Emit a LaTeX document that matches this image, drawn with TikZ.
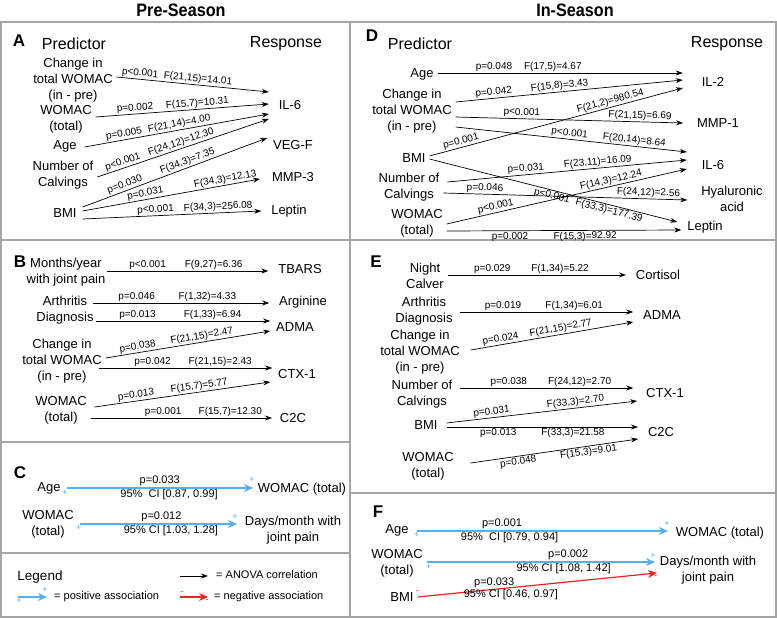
\documentclass[tikz,border=0pt]{standalone}
\usepackage{fontspec}
\setmainfont{Liberation Sans}
\usepackage{graphicx}
\usetikzlibrary{arrows.meta}
\definecolor{posblue}{RGB}{86,176,240}
\definecolor{negred}{RGB}{238,34,34}
\definecolor{linegray}{RGB}{165,165,165}
\begin{document}
\begin{tikzpicture}[x=1pt,y=-1pt,
    pred/.style={align=center,font=\fontsize{13}{16}\selectfont,inner sep=1pt,outer sep=3pt},
    resp/.style={align=center,font=\fontsize{13}{16}\selectfont,inner sep=1pt,outer sep=9pt},
    colhead/.style={font=\fontsize{16}{18}\selectfont},
    season/.style={font=\fontsize{18}{20}\selectfont\bfseries},
    panel/.style={font=\fontsize{17}{18}\selectfont\bfseries},
    stat/.style={font=\fontsize{10}{11}\selectfont,inner sep=1pt},
    ci/.style={font=\fontsize{11}{12}\selectfont,inner sep=1pt},
    plus/.style={font=\fontsize{9}{9}\selectfont,inner sep=0pt,text=posblue},
    minus/.style={font=\fontsize{9}{9}\selectfont,inner sep=0pt,text=negred},
    anova/.style={line width=0.7pt,-{Stealth[length=7pt,width=5pt]}},
    posarr/.style={draw=posblue,line width=1.6pt,-{Stealth[length=9pt,width=8pt]}},
    negarr/.style={draw=negred,line width=1.2pt,-{Stealth[length=9pt,width=8pt]}},
    panelline/.style={draw=linegray,line width=1.1pt}]
    \useasboundingbox (0,0) rectangle (777,618);
    \node[season] (preH) at (181,10) {\scalebox{0.9}[1]{Pre-Season}};
    \node[season] (inH) at (575,10) {\scalebox{0.9}[1]{In-Season}};
    \draw[panelline] (1,22) rectangle (776,617);
    \draw[panelline] (350,22) -- (350,617);
    \draw[panelline] (1,240) -- (776,240);
    \draw[panelline] (1,442) -- (350,442) (1,553) -- (350,553) (350,493) -- (776,493);

    % A
    \node[panel] (lA) at (19,41) {A};
    \node[colhead] (prA) at (74,44) {Predictor};
    \node[colhead] (rsA) at (286,44) {Response};
    \node[pred] (chgA) at (73,80) {Change in\\total WOMAC\\(in - pre)};
    \node[pred] (womA) at (66,119) {WOMAC\\(total)};
    \node[pred] (ageA) at (65,146) {Age};
    \node[pred] (calvA) at (63,175) {Number of\\Calvings};
    \node[pred] (bmiA) at (65,213) {BMI};
    \node[resp] (il6A) at (290,105) {IL-6};
    \node[resp] (vegA) at (293,145) {VEG-F};
    \node[resp] (mmpA) at (293,177) {MMP-3};
    \node[resp] (lepA) at (289,211) {Leptin};
    \draw[anova] ([yshift=3pt]chgA.east) -- node[stat,sloped,above,pos=.15]{p<0.001} node[stat,sloped,above,pos=.53]{F(21,15)=14.01} ([yshift=13pt]il6A.west);
    \draw[anova] ([yshift=2pt]womA.east) -- node[stat,sloped,above,pos=.23]{p=0.002} node[stat,sloped,above,pos=.59]{F(15,7)=10.31} ([yshift=1pt]il6A.west);
    \draw[anova] ([xshift=4pt,yshift=-1pt]ageA.east) -- node[stat,sloped,above,pos=.22]{p=0.005} node[stat,sloped,above,pos=.52]{F(21,14)=4.00} ([yshift=-9pt]il6A.west);
    \draw[anova] ([yshift=-2pt]calvA.east) -- node[stat,sloped,above,pos=.16]{p<0.001} node[stat,sloped,above,pos=.5]{F(24,12)=12.30} ([yshift=-14pt]il6A.west);
    \draw[anova] ([xshift=2pt,yshift=6pt]bmiA.east) -- node[stat,sloped,above,pos=.24]{p=0.030} node[stat,sloped,above,pos=.58]{F(34,3)=7.35} ([xshift=4pt,yshift=7pt]vegA.west);
    \draw[anova] ([xshift=2pt,yshift=2pt]bmiA.east) -- node[stat,sloped,above,pos=.36]{p=0.031} node[stat,sloped,above,pos=.81]{F(34,3)=12.13} ([xshift=-2pt,yshift=-2pt]mmpA.west);
    \draw[anova] ([xshift=2pt,yshift=-6pt]bmiA.east) -- node[stat,sloped,above,pos=.41]{p<0.001} node[stat,sloped,above,pos=.76]{F(34,3)=256.08} (lepA.west);

    % B
    \node[panel] (lB) at (20,262) {B};
    \node[pred] (monB) at (66,272) {Months/year\\with joint pain};
    \node[pred] (artB) at (65,310) {Arthritis\\Diagnosis};
    \node[pred] (chgB) at (62,361) {Change in\\total WOMAC\\(in - pre)};
    \node[pred] (womB) at (61,410) {WOMAC\\(total)};
    \node[resp] (tbaB) at (300,269) {TBARS};
    \node[resp] (argB) at (303,302) {Arginine};
    \node[resp] (admB) at (295,327) {ADMA};
    \node[resp] (ctxB) at (297,374) {CTX-1};
    \node[resp] (c2cB) at (293,418) {C2C};
    \draw[anova] ([xshift=-2pt,yshift=1pt]monB.east) -- node[stat,sloped,above,pos=.25]{p<0.001} node[stat,sloped,above,pos=.66]{F(9,27)=6.36} ([yshift=-2pt]tbaB.west);
    \draw[anova] ([xshift=-5pt,yshift=7pt]artB.east) -- node[stat,sloped,above,pos=.25]{p=0.046} node[stat,sloped,above,pos=.65]{F(1,32)=4.33} ([yshift=-1pt]argB.west);
    \draw[anova] ([xshift=-2pt,yshift=-11pt]artB.east) -- node[stat,sloped,above,pos=.24]{p=0.013} node[stat,sloped,above,pos=.67]{F(1,33)=6.94} ([xshift=4pt,yshift=6pt]admB.west);
    \draw[anova] ([yshift=3pt]chgB.east) -- node[stat,sloped,above,pos=.2]{p=0.038} node[stat,sloped,above,pos=.59]{F(21,15)=2.47} ([xshift=4pt,yshift=-4pt]admB.west);
    \draw[anova] ([xshift=-7pt,yshift=-7pt]chgB.east) -- node[stat,sloped,above,pos=.31]{p=0.042} node[stat,sloped,above,pos=.7]{F(21,15)=2.43} ([xshift=4pt,yshift=6pt]ctxB.west);
    \draw[anova] ([xshift=4pt,yshift=3pt]womB.east) -- node[stat,sloped,above,pos=.24]{p=0.013} node[stat,sloped,above,pos=.6]{F(15,7)=5.77} ([xshift=2pt,yshift=-8pt]ctxB.west);
    \draw[anova] ([yshift=-8pt]womB.east) -- node[stat,sloped,above,pos=.4]{p=0.001} node[stat,sloped,above,pos=.77]{F(15,7)=12.30} ([xshift=2pt]c2cB.west);

    % C
    \node[panel] (lC) at (20,473) {C};
    \node[pred] (ageC) at (49,488) {Age};
    \node[pred] (womC) at (48,524) {WOMAC\\(total)};
    \node[resp] (womrC) at (302,489) {WOMAC (total)};
    \node[resp] (dayC) at (293,530) {Days/month with\\joint pain};
    \draw[posarr] ([xshift=2pt]ageC.east) -- node[ci,above,pos=.5]{p=0.033} node[ci,below,pos=.55]{95\%\ \ CI [0.87, 0.99]} node[plus,pos=0,xshift=-2pt,yshift=-5pt]{+} node[plus,pos=1,xshift=-1pt,yshift=8pt]{+} ([xshift=5pt,yshift=1pt]womrC.west);
    \draw[posarr] ([xshift=2pt]womC.east) -- node[ci,above,pos=.52]{p=0.012} node[ci,below,pos=.58]{95\% CI [1.03, 1.28]} node[plus,pos=0,xshift=-1pt,yshift=-4pt]{+} node[plus,pos=1,xshift=-2pt,yshift=7pt]{+} ([xshift=2pt,yshift=6pt]dayC.west);

    % legend
    \node[font=\fontsize{13.5}{15}\selectfont] (legT) at (40,577) {Legend};
    \coordinate (lpS) at (18,597);
    \coordinate (laS) at (180,576);
    \coordinate (lnS) at (180,597);
    \node[ci,anchor=west] (lpT) at (53,597) {= positive association};
    \node[ci,anchor=west] (laT) at (215,575) {= ANOVA correlation};
    \node[ci,anchor=west] (lnT) at (213,597) {= negative association};
    \draw[posarr,shorten >=6pt] (lpS) -- node[plus,pos=0,xshift=1pt,yshift=-4pt]{+} node[plus,pos=1,xshift=-8pt,yshift=7pt]{+} (lpT.west);
    \draw[anova,shorten >=7pt] (laS) -- (laT.west |- laS);
    \draw[negarr,shorten >=5pt] (lnS) -- node[minus,pos=0,xshift=2pt,yshift=4pt]{-} node[minus,pos=1,xshift=-6pt,yshift=-4pt]{-} (lnT.west);

    % D
    \node[panel] (lD) at (372,36) {D};
    \node[colhead] (prD) at (420,44) {Predictor};
    \node[colhead] (rsD) at (727,44) {Response};
    \node[pred] (ageD) at (422,74) {Age};
    \node[pred] (chgD) at (412,111) {Change in\\total WOMAC\\(in - pre)};
    \node[pred] (bmiD) at (414,158) {BMI};
    \node[pred] (calvD) at (409,187) {Number of\\Calvings};
    \node[pred] (womD) at (417,223) {WOMAC\\(total)};
    \node[resp] (il2D) at (713,82) {IL-2};
    \node[resp] (mmpD) at (718,123) {MMP-1};
    \node[resp] (il6D) at (713,165) {IL-6};
    \node[resp] (hyaD) at (732,199) {Hyaluronic\\acid};
    \node[resp] (lepD) at (705,227) {Leptin};
    \draw[anova] ([yshift=1pt]ageD.east) -- node[stat,sloped,above,pos=.23]{p=0.048} node[stat,sloped,above,pos=.47]{F(17,5)=4.67} ([xshift=-9pt,yshift=9pt]il2D.west);
    \draw[anova] ([yshift=9pt]chgD.east) -- node[stat,sloped,above,pos=.17]{p=0.042} node[stat,sloped,above,pos=.46]{F(15,8)=3.43} ([xshift=-9pt,yshift=2pt]il2D.west);
    \draw[anova] ([yshift=2pt]bmiD.east) -- node[stat,sloped,above,pos=.13]{p=0.001} node[stat,sloped,above,pos=.72]{F(21,2)=980.54} ([xshift=-9pt,yshift=-6pt]il2D.west);
    \draw[anova] ([yshift=-6pt]chgD.east) -- node[stat,sloped,above,pos=.29]{p<0.001} node[stat,sloped,above,pos=.81]{F(21,15)=6.69} ([xshift=-4pt]mmpD.west);
    \draw[anova] ([yshift=-16pt]chgD.east) -- node[stat,sloped,above,pos=.49]{p<0.001} node[stat,sloped,above,pos=.77]{F(20,14)=8.64} ([xshift=-5pt,yshift=13pt]il6D.west);
    \draw[anova] ([xshift=4pt,yshift=5pt]calvD.east) -- node[stat,sloped,above,pos=.33]{p=0.031} node[stat,sloped,above,pos=.63]{F(23,11)=16.09} ([xshift=-5pt,yshift=5pt]il6D.west);
    \draw[anova] ([yshift=-1pt]womD.east) -- node[stat,sloped,above,pos=.21]{p<0.001} node[stat,sloped,above,pos=.69]{F(14,3)=12.24} ([xshift=-5pt,yshift=-4pt]il6D.west);
    \draw[anova] ([yshift=-6pt]calvD.east) -- node[stat,sloped,above,pos=.17]{p=0.046} node[stat,sloped,above,pos=.84]{F(24,12)=2.56} ([xshift=-4pt,yshift=-1pt]hyaD.west);
    \draw[anova] ([yshift=-1pt]bmiD.east) -- node[stat,sloped,below,pos=.5]{p<0.001} node[stat,sloped,below,pos=.73]{F(33,3)=177.39} ([yshift=5pt]lepD.west);
    \draw[anova] ([yshift=-8pt]womD.east) -- node[stat,sloped,below,pos=.27]{p=0.002} node[stat,sloped,below,pos=.59]{F(15,3)=92.92} ([xshift=4pt,yshift=-3pt]lepD.west);

    % E
    \node[panel] (lE) at (376,262) {E};
    \node[pred] (nigE) at (425,276) {Night\\Calver};
    \node[pred] (artE) at (424,311) {Arthritis\\Diagnosis};
    \node[pred] (chgE) at (420,352) {Change in\\total WOMAC\\(in - pre)};
    \node[pred] (calvE) at (422,394) {Number of\\Calvings};
    \node[pred] (bmiE) at (426,425) {BMI};
    \node[pred] (womE) at (428,466) {WOMAC\\(total)};
    \node[resp] (corE) at (658,275) {Cortisol};
    \node[resp] (admE) at (662,315) {ADMA};
    \node[resp] (ctxE) at (665,393) {CTX-1};
    \node[resp] (c2cE) at (661,432) {C2C};
    \draw[anova] ([yshift=1pt]nigE.east) -- node[stat,sloped,above,pos=.25]{p=0.029} node[stat,sloped,above,pos=.63]{F(1,34)=5.22} (corE.west);
    \draw[anova] ([xshift=3pt,yshift=-1pt]artE.east) -- node[stat,sloped,above,pos=.25]{p=0.019} node[stat,sloped,above,pos=.66]{F(1,34)=6.01} ([yshift=3pt]admE.west);
    \draw[anova] ([xshift=7pt,yshift=2pt]chgE.east) -- node[stat,sloped,above,pos=.19]{p=0.024} node[stat,sloped,above,pos=.56]{F(21,15)=2.77} ([yshift=-7pt]admE.west);
    \draw[anova] ([xshift=4pt,yshift=6pt]calvE.east) -- node[stat,sloped,above,pos=.28]{p=0.038} node[stat,sloped,above,pos=.69]{F(24,12)=2.70} ([xshift=-3pt,yshift=5pt]ctxE.west);
    \draw[anova] ([xshift=5pt,yshift=2pt]bmiE.east) -- node[stat,sloped,above,pos=.24]{p=0.031} node[stat,sloped,above,pos=.68]{F(33,3)=2.70} ([xshift=1pt,yshift=-8pt]ctxE.west);
    \draw[anova] ([xshift=5pt,yshift=-2pt]bmiE.east) -- node[stat,sloped,below,pos=.27]{p=0.013} node[stat,sloped,below,pos=.66]{F(33,3)=21.58} ([yshift=5pt]c2cE.west);
    \draw[anova] ([xshift=13pt,yshift=3pt]womE.east) -- node[stat,sloped,below,pos=.28]{p=0.048} node[stat,sloped,below,pos=.7]{F(15,3)=9.01} ([yshift=-7pt]c2cE.west);

    % F
    \node[panel] (lF) at (378,512) {F};
    \node[pred] (ageF) at (397,530) {Age};
    \node[pred] (womF) at (397,563) {WOMAC\\(total)};
    \node[pred] (bmiF) at (402,597) {BMI};
    \node[resp] (womrF) at (720,533) {WOMAC (total)};
    \node[resp] (dayF) at (708,570) {Days/month with\\joint pain};
    \draw[posarr] ([xshift=4pt,yshift=-1pt]ageF.east) -- node[ci,above,pos=.34]{p=0.001} node[ci,below,pos=.37]{95\%\ \ CI [0.79, 0.94]} node[plus,pos=0,yshift=-4pt]{+} node[plus,pos=1,xshift=-1pt,yshift=7pt]{+} ([xshift=2pt,yshift=2pt]womrF.west);
    \draw[posarr] ([yshift=1pt]womF.east) -- node[ci,above,pos=.62]{p=0.002} node[ci,below,pos=.6]{95\% CI [1.08, 1.42]} node[plus,pos=0,xshift=2pt,yshift=-5pt]{+} node[plus,pos=1,xshift=-2pt,yshift=6pt]{+} ([xshift=5pt,yshift=8pt]dayF.west);
    \draw[negarr] (bmiF.east) -- node[ci,above,pos=.32]{p=0.033} node[ci,below,pos=.39]{95\% CI [0.46, 0.97]} node[minus,pos=0,yshift=5pt]{-} node[minus,pos=1,xshift=-1pt,yshift=-4pt]{-} ([xshift=7pt,yshift=-3pt]dayF.west);
\end{tikzpicture}
\end{document}
